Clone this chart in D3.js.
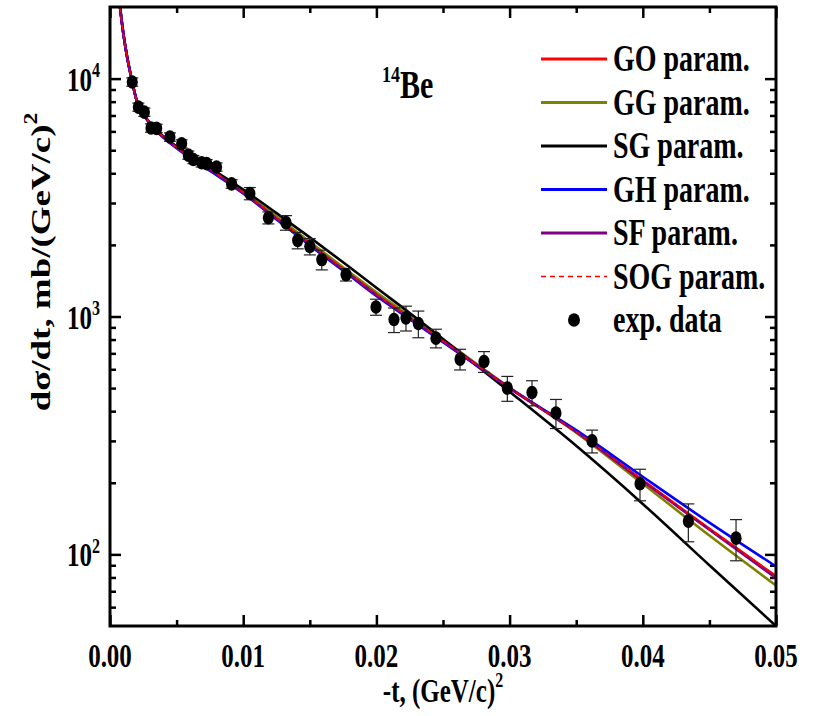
<!DOCTYPE html>
<html>
<head>
<meta charset="utf-8">
<script src="https://cdn.jsdelivr.net/npm/d3@7"></script>
<style>
  body { margin: 0; background: #fff; }
  svg { display: block; font-family: "Liberation Serif", "Times New Roman", serif; font-weight: bold; }
</style>
</head>
<body>
<svg id="chart" width="817" height="716"></svg>
<script>
// --- data ---
const tGrid   = [0.00075, 0.001, 0.0013, 0.0016, 0.002, 0.0025, 0.003, 0.004, 0.005, 0.006, 0.008, 0.01, 0.0125, 0.015, 0.0175, 0.02, 0.0225, 0.025, 0.03, 0.035, 0.04, 0.045, 0.05];
const goParam  = [20000, 15500, 12200, 10100, 8100, 7100, 6500, 5700, 5150, 4700, 4000, 3330, 2600, 2030, 1590, 1240, 990, 790, 500, 328, 205, 128, 81];
const ggParam  = [20000, 15500, 12200, 10100, 8100, 7100, 6500, 5700, 5150, 4700, 4000, 3350, 2630, 2060, 1610, 1265, 1005, 800, 503, 325, 198, 120, 74];
const sgParam  = [20000, 15500, 12200, 10100, 8100, 7100, 6500, 5720, 5180, 4740, 4050, 3420, 2720, 2150, 1690, 1320, 1035, 805, 483, 286, 163, 90, 50];
const ghParam  = [20000, 15500, 12200, 10100, 8100, 7100, 6450, 5650, 5100, 4650, 3930, 3290, 2560, 1990, 1560, 1220, 975, 780, 500, 333, 212, 136, 89];
const sfParam  = [20000, 15500, 12200, 10100, 8100, 7100, 6480, 5680, 5130, 4680, 3970, 3310, 2580, 2010, 1575, 1235, 985, 788, 500, 327, 203, 127, 79.5];
const sogParam = [20000, 15500, 12200, 10100, 8100, 7100, 6500, 5700, 5150, 4700, 4000, 3330, 2600, 2030, 1590, 1240, 990, 790, 500, 328, 205, 128, 81];

const expT   = [0.00167, 0.00213, 0.00258, 0.00308, 0.0035, 0.0045, 0.00538, 0.00588, 0.00626, 0.00688, 0.00726, 0.008, 0.00913, 0.0105, 0.01189, 0.01321, 0.01409, 0.015, 0.0159, 0.01772, 0.01997, 0.02132, 0.02222, 0.02315, 0.02447, 0.02628, 0.02808, 0.02983, 0.03168, 0.03348, 0.03619, 0.03979, 0.04342, 0.047];
const expY   = [9680, 7590, 7230, 6200, 6180, 5680, 5320, 4770, 4570, 4430, 4390, 4250, 3610, 3290, 2600, 2480, 2090, 1970, 1735, 1500, 1097, 971, 987, 934, 811, 662, 647, 500, 479, 393, 300, 198, 138, 117];
const expErr = [390, 300, 290, 250, 250, 230, 210, 190, 180, 180, 175, 170, 150, 195, 150, 175, 165, 155, 165, 90, 85, 115, 118, 120, 73, 66, 65, 60, 58, 55, 33, 30, 25, 23];

const xTicks = [0, 0.01, 0.02, 0.03, 0.04, 0.05];
const xMinor = [0.005, 0.015, 0.025, 0.035, 0.045];
const yTicks = [100, 1000, 10000];
const yMinor = [60, 70, 80, 90, 200, 300, 400, 500, 600, 700, 800, 900, 2000, 3000, 4000, 5000, 6000, 7000, 8000, 9000];

const series = [
  { name: "GO param.",  values: goParam,  color: "#ff0000" },
  { name: "GG param.",  values: ggParam,  color: "#808000" },
  { name: "SG param.",  values: sgParam,  color: "#000000" },
  { name: "GH param.",  values: ghParam,  color: "#0000ff" },
  { name: "SF param.",  values: sfParam,  color: "#800080" },
  { name: "SOG param.", values: sogParam, color: "#ff0000", dash: "5,4" }
];

// --- layout ---
const plotL = 110, plotR = 776, plotT = 7, plotB = 626;
const stretch = 1.32; // the original figure is stretched vertically

const svg = d3.select("#chart");
const x = d3.scaleLinear().domain([0, 0.05]).range([plotL, plotR]);
const y = d3.scaleLog().domain([50, 20000]).range([plotB, plotT]);

svg.append("defs").append("clipPath").attr("id", "plot-clip")
  .append("rect").attr("x", plotL).attr("y", plotT).attr("width", plotR - plotL).attr("height", plotB - plotT);

// ticks (inward, on all four sides)
function ticks(axis, pos, vals, len) {
  const a = svg.append("g").attr("transform", pos)
    .call(axis.tickValues(vals).tickSize(-len).tickFormat(""));
  a.select(".domain").remove();
  a.selectAll("line").attr("stroke", "#000").attr("stroke-width", 2.5);
}
ticks(d3.axisBottom(x), `translate(0,${plotB})`, xTicks, 11);
ticks(d3.axisBottom(x), `translate(0,${plotB})`, xMinor, 6);
ticks(d3.axisTop(x), `translate(0,${plotT})`, xTicks, 11);
ticks(d3.axisTop(x), `translate(0,${plotT})`, xMinor, 6);
ticks(d3.axisLeft(y), `translate(${plotL},0)`, yTicks, 11);
ticks(d3.axisLeft(y), `translate(${plotL},0)`, yMinor, 6);
ticks(d3.axisRight(y), `translate(${plotR},0)`, yTicks, 11);
ticks(d3.axisRight(y), `translate(${plotR},0)`, yMinor, 6);

// curves
const line = d3.line()
  .x((d, i) => x(tGrid[i]))
  .y(d => y(d))
  .curve(d3.curveMonotoneX);

const curves = svg.append("g").attr("clip-path", "url(#plot-clip)");
series.forEach(s => {
  curves.append("path")
    .attr("d", line(s.values))
    .attr("fill", "none")
    .attr("stroke", s.color)
    .attr("stroke-width", s.dash ? 1.5 : 2.6)
    .attr("stroke-dasharray", s.dash || null);
});

// experimental data with error bars
const expData = expT.map((t, i) => ({ t, v: expY[i], e: expErr[i] }));
const bars = svg.append("g").attr("stroke", "#222").attr("stroke-width", 1.2);
expData.forEach(d => {
  const y0 = y(d.v - d.e), y1 = y(d.v + d.e), cx = x(d.t);
  bars.append("line").attr("x1", cx).attr("x2", cx).attr("y1", y0).attr("y2", y1);
  bars.append("line").attr("x1", cx - 6).attr("x2", cx + 6).attr("y1", y0).attr("y2", y0);
  bars.append("line").attr("x1", cx - 6).attr("x2", cx + 6).attr("y1", y1).attr("y2", y1);
});
svg.append("g").selectAll("ellipse").data(expData).join("ellipse")
  .attr("cx", d => x(d.t)).attr("cy", d => y(d.v))
  .attr("rx", 5.6).attr("ry", 6.8).attr("fill", "#000");

// frame
svg.append("rect").attr("x", plotL).attr("y", plotT)
  .attr("width", plotR - plotL).attr("height", plotB - plotT)
  .attr("fill", "none").attr("stroke", "#000").attr("stroke-width", 3);

// stretched text helper
function label(px, py, size, anchor, rot) {
  const tr = rot ? `translate(${px},${py}) rotate(-90) scale(${stretch},1)`
                 : `translate(${px},${py}) scale(1,${stretch})`;
  return svg.append("text").attr("transform", tr)
    .attr("font-size", size).attr("text-anchor", anchor);
}

// x tick labels
xTicks.forEach(t => label(x(t), 667, 25, "middle").text(d3.format(".2f")(t)));

// y tick labels
yTicks.forEach(v => {
  const tx = label(100, y(v) + 12, 25, "end");
  tx.append("tspan").text("10");
  tx.append("tspan").attr("font-size", 16).attr("dy", -10).text(Math.round(Math.log10(v)));
});

// axis titles
const xt = label(443, 702, 25, "middle");
xt.append("tspan").text("-t, (GeV/c)");
xt.append("tspan").attr("font-size", 16).attr("dy", -11).text("2");

const yt = label(50, 262, 28, "middle", true);
yt.append("tspan").text("dσ/dt, mb/(GeV/c)");
yt.append("tspan").attr("font-size", 18).attr("dy", -13).text("2");

// nucleus label
const nl = label(382, 98, 30, "start");
nl.append("tspan").attr("font-size", 18).attr("dy", -12).text("14");
nl.append("tspan").attr("dy", 12).text("Be");

// legend
const legX0 = 541, legX1 = 607, legY0 = 59, legStep = 43.5;
series.forEach((s, i) => {
  const ly = legY0 + i * legStep;
  svg.append("line").attr("x1", legX0).attr("x2", legX1).attr("y1", ly).attr("y2", ly)
    .attr("stroke", s.color).attr("stroke-width", s.dash ? 1.5 : 3)
    .attr("stroke-dasharray", s.dash || null);
  label(613, ly + 12, 28, "start").text(s.name);
});
const expLy = legY0 + series.length * legStep;
svg.append("ellipse").attr("cx", 574).attr("cy", expLy).attr("rx", 6).attr("ry", 6.8).attr("fill", "#000");
label(613, expLy + 12, 28, "start").text("exp. data");
</script>
</body>
</html>
